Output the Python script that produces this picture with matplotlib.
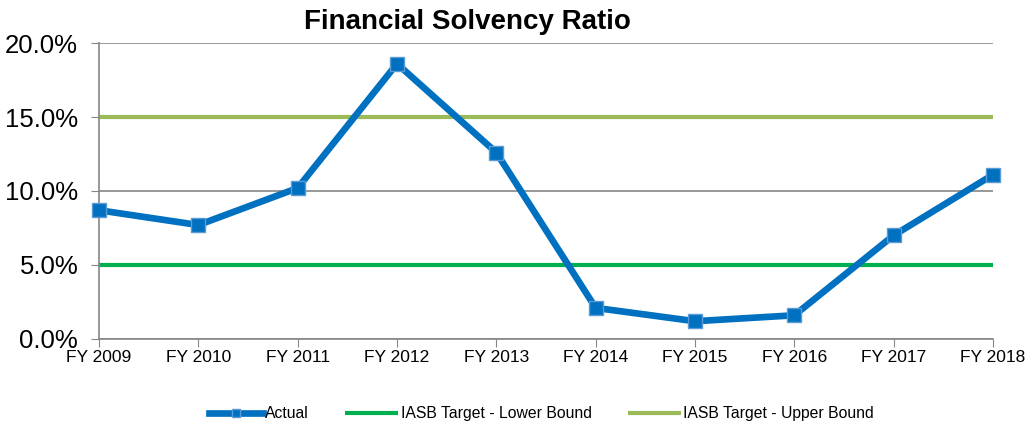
import matplotlib
matplotlib.use("Agg")
import matplotlib.pyplot as plt
from matplotlib.ticker import FuncFormatter

plt.rcParams['font.family'] = ['Liberation Sans', 'DejaVu Sans']

years = ["FY 2009", "FY 2010", "FY 2011", "FY 2012", "FY 2013",
         "FY 2014", "FY 2015", "FY 2016", "FY 2017", "FY 2018"]
actual = [8.7, 7.7, 10.2, 18.6, 12.6, 2.1, 1.2, 1.6, 7.0, 11.1]
lower_bound = [5.0] * len(years)
upper_bound = [15.0] * len(years)
y_ticks = [0, 5, 10, 15, 20]

fig = plt.figure(figsize=(10.26, 4.28), dpi=100)
ax = fig.add_axes([0.0965, 0.208, 0.8713, 0.6915])

x = list(range(len(years)))
ax.plot(x, lower_bound, color="#00B050", lw=3.0, solid_capstyle="butt",
        label="IASB Target - Lower Bound", zorder=2, clip_on=False)
ax.plot(x, upper_bound, color="#9BBB59", lw=3.0, solid_capstyle="butt",
        label="IASB Target - Upper Bound", zorder=2, clip_on=False)
ax.plot(x, actual, color="#0070C0", lw=4.8, marker="s", markersize=10,
        markerfacecolor="#0070C0", markeredgecolor="#5B9BD5", markeredgewidth=1,
        label="Actual", zorder=3, clip_on=False)

ax.set_xlim(0, len(years) - 1)
ax.set_ylim(0, 20)
ax.set_yticks(y_ticks)
ax.yaxis.set_major_formatter(FuncFormatter(lambda v, p: f"{v:.1f}%"))
ax.set_xticks(x)
ax.set_xticklabels(years)
ax.tick_params(axis="y", labelsize=18.5, length=6, color="#868686", pad=9)
ax.tick_params(axis="x", labelsize=12.5, length=6, color="#868686", pad=2)
ax.grid(axis="y", color="#868686", lw=1.2, zorder=1)
for s in ["top", "right"]:
    ax.spines[s].set_visible(False)
for s in ["left", "bottom"]:
    ax.spines[s].set_color("#868686")
    ax.spines[s].set_linewidth(1.2)
ax.set_axisbelow(True)

fig.text(0.456, 0.949, "Financial Solvency Ratio", fontsize=20, fontweight="bold",
         ha="center", va="center")

h, l = ax.get_legend_handles_labels()
order = [2, 0, 1]
fig.legend([h[i] for i in order], [l[i] for i in order], loc="center",
           bbox_to_anchor=(0.528, 0.033), ncol=3, frameon=False, fontsize=11.3,
           columnspacing=2.3, handlelength=3.4, handletextpad=0.15, markerscale=0.6)

fig.savefig("out.png", dpi=100)
